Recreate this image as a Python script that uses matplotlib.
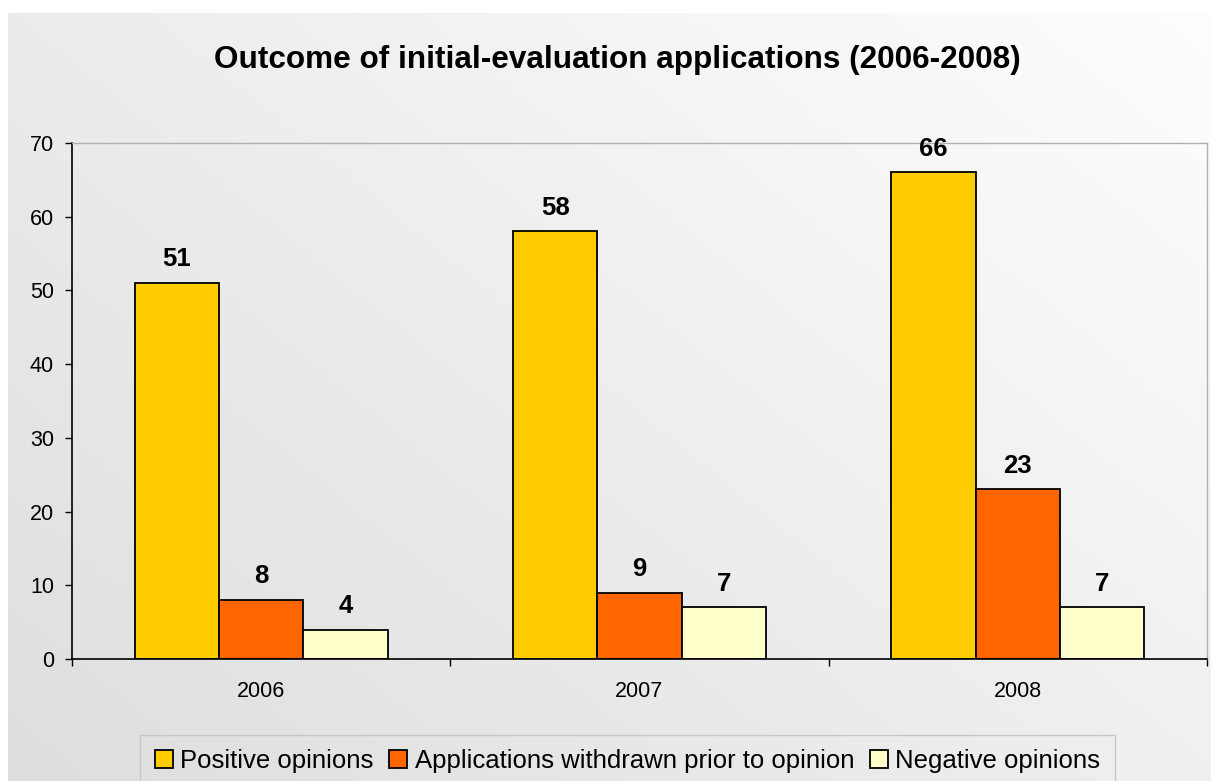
import numpy as np
import matplotlib
matplotlib.use("Agg")
import matplotlib.pyplot as plt
from matplotlib.ticker import FixedLocator

plt.rcParams['font.family'] = ['Liberation Sans', 'DejaVu Sans']

years = ["2006", "2007", "2008"]
series_names = ["Positive opinions",
                "Applications withdrawn prior to opinion",
                "Negative opinions"]
positive = [51, 58, 66]
withdrawn = [8, 9, 23]
negative = [4, 7, 7]
colors = ["#FFCC00", "#FF6600", "#FFFFCC"]

W, H = 1211, 781
fig = plt.figure(figsize=(W / 100, H / 100), dpi=100)
fig.patch.set_facecolor("white")

# gradient background panel (lighter towards the top right)
bg = fig.add_axes([8 / W, 0, 1 - 8 / W, 1 - 13 / H], zorder=-10)
u = np.linspace(0, 1, 200)
v = np.linspace(1, 0, 200)
U, V = np.meshgrid(u, v)
shade = np.clip(0.87 + 0.07 * U + 0.055 * V, 0, 1)
bg.imshow(np.dstack([shade, shade, shade]), aspect="auto", extent=[0, 1, 0, 1])
bg.axis("off")

ax = fig.add_axes([72 / W, 1 - 659 / H, (1207 - 72) / W, (659 - 143) / H])
ax.patch.set_alpha(0)

x = np.arange(len(years))
width = 0.223
data = [positive, withdrawn, negative]
for i, (vals, name, col) in enumerate(zip(data, series_names, colors)):
    bars = ax.bar(x + (i - 1) * width, vals, width, color=col, edgecolor="black",
                  linewidth=1.3, label=name)
    for b, val in zip(bars, vals):
        ax.annotate(str(val), (b.get_x() + b.get_width() / 2, b.get_height()),
                    xytext=(0, 8.5), textcoords="offset points", ha="center",
                    va="bottom", fontsize=18.5, fontweight="bold")

ax.set_xlim(-0.5, 2.5)
ax.set_ylim(0, 70)
ax.set_yticks(range(0, 71, 10))
ax.set_xticks(x)
ax.set_xticklabels(years)
ax.xaxis.set_minor_locator(FixedLocator([-0.5, 0.5, 1.5, 2.5]))
ax.tick_params(axis="x", which="major", length=0, pad=16, labelsize=15.5)
ax.tick_params(axis="x", which="minor", length=5, direction="out", width=1)
ax.tick_params(axis="y", length=5, width=1, pad=8, labelsize=15.5)

for s in ["top", "right"]:
    ax.spines[s].set_color("#b0b0b0")
    ax.spines[s].set_linewidth(1)
for s in ["left", "bottom"]:
    ax.spines[s].set_linewidth(1.2)

fig.text(617.5 / W, 1 - 60 / H,
         "Outcome of initial-evaluation applications (2006-2008)",
         fontsize=22.7, fontweight="bold", ha="center", va="center")

leg = fig.legend(loc="upper center", bbox_to_anchor=(627.5 / W, 1 - 735 / H),
                 ncol=3, frameon=True, fancybox=False, fontsize=18.5,
                 handlelength=0.7, handleheight=0.7, handletextpad=0.3,
                 columnspacing=0.6, borderpad=0.55, borderaxespad=0)
leg.get_frame().set_edgecolor("#c0c0c0")
leg.get_frame().set_facecolor("none")
leg.get_frame().set_linewidth(1)

fig.savefig("out.png", dpi=100)
